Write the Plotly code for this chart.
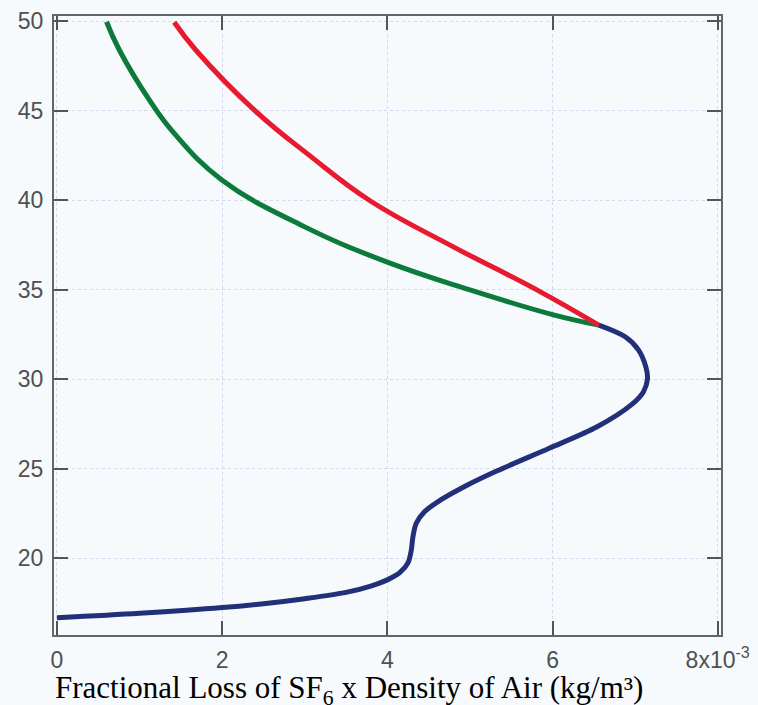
import plotly.graph_objects as go

# x values in units of 1e-3 kg/m^3, y values = altitude
blue_x = [0.0, 1.0, 2.0, 2.5, 3.0, 3.5, 3.8, 4.0, 4.15, 4.25, 4.29, 4.31, 4.35, 4.45, 4.61,
          4.93, 5.33, 5.96, 6.54, 6.96, 7.1, 7.15, 7.13, 7.04, 6.88, 6.56]
blue_y = [16.68, 16.93, 17.25, 17.47, 17.75, 18.1, 18.45, 18.8, 19.2, 19.75, 20.46, 21.21, 21.96,
          22.6, 23.16, 24.0, 24.89, 26.15, 27.35, 28.6, 29.3, 30.02, 30.7, 31.65, 32.38, 33.03]

green_x = [6.56, 6.0, 5.0, 4.0, 3.0, 2.0, 1.42, 1.12, 0.755, 0.6]
green_y = [33.03, 33.62, 35.0, 36.55, 38.52, 41.13, 43.74, 45.6, 48.4, 49.98]

red_x = [6.56, 5.81, 4.76, 3.8, 3.06, 2.4, 1.68, 1.42]
red_y = [33.03, 35.0, 37.5, 39.95, 42.5, 45.0, 48.4, 49.95]

x_ticks = [0, 2, 4, 6, 8]
x_ticktext = ["0", "2", "4", "6", "8x10<sup>-3</sup>"]
y_ticks = [20, 25, 30, 35, 40, 45, 50]

fig = go.Figure()
fig.add_trace(go.Scatter(x=green_x, y=green_y, mode="lines",
                         line=dict(color="#0b7a3a", width=5, shape="spline", smoothing=1.2)))
fig.add_trace(go.Scatter(x=red_x, y=red_y, mode="lines",
                         line=dict(color="#e81a30", width=5, shape="spline", smoothing=1.2)))
fig.add_trace(go.Scatter(x=blue_x, y=blue_y, mode="lines",
                         line=dict(color="#213079", width=5, shape="spline", smoothing=0.9)))

bg = "#f7fafc"
fig.update_layout(
    width=758, height=705,
    margin=dict(l=54, r=37, t=16, b=70, autoexpand=False),
    paper_bgcolor=bg, plot_bgcolor=bg,
    showlegend=False,
    font=dict(family="Liberation Sans, Arial, sans-serif", size=23, color="#505050"),
)
fig.update_xaxes(
    range=[-0.036, 8.04], tickvals=x_ticks, ticktext=x_ticktext,
    showline=True, linecolor="#666666", linewidth=2, mirror="allticks",
    ticks="inside", ticklen=14, tickwidth=2, tickcolor="#555555",
    showgrid=True, gridcolor="#d3d7ec", griddash="dot", gridwidth=1,
    zeroline=False, ticklabelstandoff=3, automargin=False,
)
fig.update_yaxes(
    range=[15.72, 50.3], tickvals=y_ticks,
    showline=True, linecolor="#666666", linewidth=2, mirror="allticks",
    ticks="inside", ticklen=14, tickwidth=2, tickcolor="#555555",
    showgrid=True, gridcolor="#d3d7ec", griddash="dot", gridwidth=1,
    zeroline=False, ticklabelstandoff=4, automargin=False,
)
fig.add_annotation(
    text="Fractional Loss of SF<sub>6</sub> x Density of Air (kg/m³)",
    xref="paper", yref="paper", x=0.0, y=-0.054, xanchor="left", yanchor="top",
    showarrow=False, xshift=-1,
    font=dict(family="Liberation Serif, Times New Roman, serif", size=31, color="#000000"),
)
fig.write_html("out.html")
